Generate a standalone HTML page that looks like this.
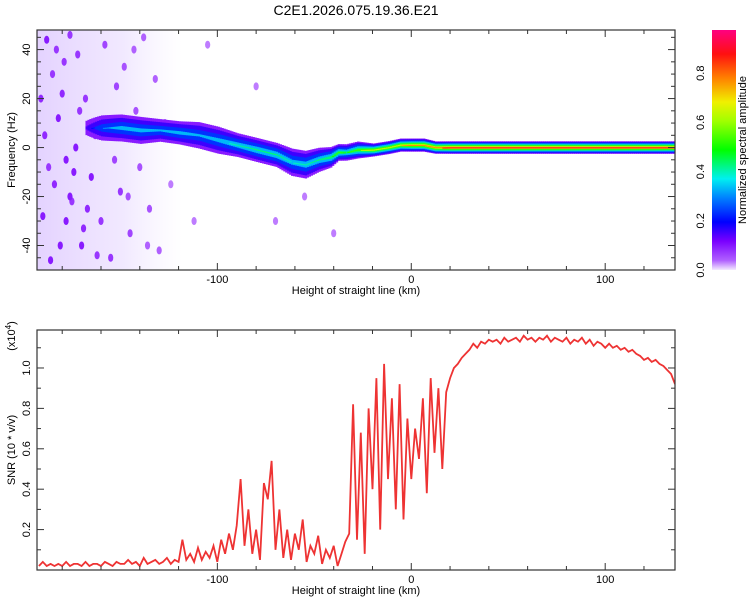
<!DOCTYPE html>
<html><head><meta charset="utf-8"><style>
body{margin:0;background:#fff;}
svg{display:block;font-family:"Liberation Sans",sans-serif;}
</style></head><body>
<svg id="c" width="750" height="600">
<defs>
<linearGradient id="cbg" x1="0" y1="1" x2="0" y2="0">
<stop offset="0" stop-color="#f4eaff"/><stop offset="0.04" stop-color="#b060ff"/>
<stop offset="0.12" stop-color="#7a00ff"/><stop offset="0.2" stop-color="#0000ff"/>
<stop offset="0.3" stop-color="#0080ff"/><stop offset="0.38" stop-color="#00f0f0"/>
<stop offset="0.5" stop-color="#00ff00"/><stop offset="0.62" stop-color="#a0ff00"/>
<stop offset="0.7" stop-color="#f0f000"/><stop offset="0.8" stop-color="#ff8000"/>
<stop offset="0.9" stop-color="#ff1010"/><stop offset="1" stop-color="#ff0080"/>
</linearGradient>
<linearGradient id="haze" x1="0" y1="0" x2="1" y2="0">
<stop offset="0" stop-color="#c9a6ff" stop-opacity="0.5"/><stop offset="0.6" stop-color="#d8c0ff" stop-opacity="0.35"/><stop offset="1" stop-color="#e6d8ff" stop-opacity="0"/>
</linearGradient>
<clipPath id="cp1"><rect x="37" y="30" width="638" height="240"/></clipPath>
<clipPath id="cp2"><rect x="37" y="330" width="638" height="240"/></clipPath>
</defs>
<text x="356" y="15" text-anchor="middle" font-size="14">C2E1.2026.075.19.36.E21</text>
<g id="top"></g>
<g id="bot"></g>
<rect x="712" y="30" width="24" height="240" fill="url(#cbg)"/>
<g id="cbt"></g>
<text transform="translate(746,150) rotate(-90)" text-anchor="middle" font-size="11">Normalized spectral amplitude</text>
</svg>
<script>
const ridgeX=[-168,-160,-150,-140,-130,-120,-110,-100,-90,-80,-70,-62,-55,-48,-42,-38,-34,-28,-20,-12,-6,0,6,12,20,136];
const ridgeF=[8,8,8,7,7,6,5,3,1,-1,-3,-6,-7,-5,-4,-2,-2,-1,-1,0,1,1,1,0,0,0];
const ridgeA=[0.15,0.3,0.38,0.38,0.35,0.38,0.35,0.38,0.42,0.45,0.45,0.4,0.42,0.45,0.5,0.55,0.5,0.6,0.7,0.7,0.75,0.8,0.8,0.85,0.92,0.92];
const ridgeW=[6,7,7,7,6,6,7,7,6,6,6,7,7,6,5,4,4,4,3,3,3,3,3,2.8,2.8,2.8];
const speckles=[[-188,44,.1],[-185,30,.08],[-182,12,.1],[-178,-5,.1],[-175,-22,.08],[-172,38,.08],[-170,-40,.1],[-168,20,.08],[-165,-12,.1],[-163,5,.08],[-160,-30,.08],[-158,42,.07],[-155,-45,.08],[-152,25,.07],[-150,-18,.08],[-148,33,.06],[-145,-35,.07],[-142,15,.06],[-140,-8,.06],[-138,45,.05],[-135,-25,.06],[-132,28,.05],[-130,-42,.05],[-127,10,.05],[-124,-15,.04],[-190,-28,.1],[-186,-46,.1],[-180,22,.09],[-176,46,.08],[-173,0,.1],[-184,-15,.09],[-179,35,.08],[-167,-25,.09],[-162,-44,.08],[-157,10,.07],[-153,-5,.07],[-146,-20,.06],[-143,40,.05],[-136,-40,.05],[-112,-30,.04],[-105,42,.04],[-80,25,.04],[-70,-30,.04],[-55,-20,.04],[-40,-35,.04],[-178,-30,.1],[-176,-20,.1],[-174,-10,.1],[-181,-40,.1],[-189,5,.09],[-187,-8,.08],[-183,40,.08],[-171,15,.08],[-169,-33,.09],[-191,20,.09]];
const snrStart=-192, snrStep=2;
const snr=[0.02,0.04,0.02,0.03,0.02,0.03,0.02,0.04,0.02,0.03,0.03,0.02,0.04,0.02,0.03,0.03,0.02,0.04,0.03,0.02,0.04,0.03,0.03,0.05,0.03,0.04,0.02,0.06,0.03,0.04,0.05,0.03,0.04,0.06,0.03,0.05,
0.04,0.15,0.05,0.08,0.04,0.11,0.05,0.09,0.06,0.12,
0.04,0.15,0.08,0.18,0.10,0.22,0.45,0.12,0.30,0.08,0.20,0.05,0.43,
0.35,0.54,0.10,0.30,0.06,0.20,0.05,0.18,0.10,0.25,0.04,0.12,0.08,0.17,0.03,0.10,0.06,0.12,0.02,0.08,
0.14,0.18,0.82,0.15,0.68,0.08,0.80,0.40,
0.95,0.20,1.02,0.45,0.85,0.30,0.92,0.25,0.75,
0.45,0.70,0.55,0.85,0.38,0.95,0.58,0.90,0.50,0.88,
0.95,1.00,1.02,1.05,1.07,1.09,1.12,1.10,1.13,1.12,1.14,
1.13,1.14,1.12,1.15,1.13,1.14,1.15,1.13,1.16,1.14,1.15,1.13,1.15,1.14,1.16,1.13,1.15,1.14,1.13,1.15,1.12,1.14,1.13,1.15,1.12,1.14,1.11,1.13,1.12,1.10,
1.12,1.10,1.11,1.09,1.10,1.08,1.09,1.07,1.06,1.04,1.05,1.03,1.04,1.02,1.01,0.99,0.97,0.92];
const xTicks=["-100","0","100"];
const fTicks=["-40","-20","0","20","40"];
const snrTicks=["0.2","0.4","0.6","0.8","1.0"];
const cbTicks=["0.0","0.2","0.4","0.6","0.8"];

const NS="http://www.w3.org/2000/svg";
const X0=37,X1=675,xMin=-193,xMax=136;
const sx=v=>X0+(v-xMin)/(xMax-xMin)*(X1-X0);
const fMin=-50,fMax=48; const sf=v=>270-(v-fMin)/(fMax-fMin)*240;
const sMax=1.188; const ss=v=>570-v/sMax*240;
function mk(tag,at,parent){const e=document.createElementNS(NS,tag);for(const k in at)e.setAttribute(k,at[k]);parent.appendChild(e);return e;}
function cmap(a){const st=[[0,[244,234,255]],[0.05,[176,96,255]],[0.12,[122,0,255]],[0.2,[0,0,255]],[0.3,[0,128,255]],[0.38,[0,240,240]],[0.5,[0,255,0]],[0.62,[160,255,0]],[0.7,[240,240,0]],[0.8,[255,128,0]],[0.9,[255,16,16]],[1,[255,0,128]]];
for(let i=1;i<st.length;i++){if(a<=st[i][0]){const t=(a-st[i-1][0])/(st[i][0]-st[i-1][0]);const c=st[i-1][1].map((v,j)=>Math.round(v+(st[i][1][j]-v)*t));return `rgb(${c})`;}}return 'rgb(255,0,128)';}
function interp(xs,ys,x){for(let i=1;i<xs.length;i++){if(x<=xs[i]){const t=(x-xs[i-1])/(xs[i]-xs[i-1]);return ys[i-1]+(ys[i]-ys[i-1])*t;}}return ys[ys.length-1];}

const topG=document.getElementById('top');
const g1=mk('g',{'clip-path':'url(#cp1)'},topG);
const hz=mk('rect',{x:sx(-193),y:30,width:sx(-118)-sx(-193),height:240,fill:'url(#haze)'},g1);


speckles.forEach(s=>{const e=mk('ellipse',{cx:sx(s[0]),cy:sf(s[1]),rx:2.6,ry:4,fill:cmap(s[2])},g1);

});
const levels=[0.06,0.12,0.2,0.3,0.4,0.5,0.62,0.75,0.88];
const rg=mk('g',{},g1);


for(const l of levels){
 for(let x=ridgeX[0];x<ridgeX[ridgeX.length-1];x+=1){
  const A=interp(ridgeX,ridgeA,x); if(l>=A) continue;
  const f=interp(ridgeX,ridgeF,x), w=interp(ridgeX,ridgeW,x);
  const hw=w*Math.pow(1-l/A,1.4);
  const y1=sf(f+hw),y2=sf(f-hw);
  mk('rect',{x:sx(x),y:y1,width:sx(x+1)-sx(x)+0.6,height:Math.max(1,y2-y1),fill:cmap(Math.min(l+0.04,A))},rg);
 }
}
const botG=document.getElementById('bot');
const g2=mk('g',{'clip-path':'url(#cp2)'},botG);
let d=snr.map((v,i)=>(i?'L':'M')+sx(snrStart+i*snrStep).toFixed(1)+','+ss(v).toFixed(1)).join('');
const ln=mk('path',{d:d,fill:'none',stroke:'#ee3333','stroke-width':1.8},g2);



function axes(par,yT,yB,yScale,yMajor,yMinorStep,yMinorRange,yLabels,ylabel,xlabel){
 mk('rect',{x:X0,y:yT,width:X1-X0,height:yB-yT,fill:'none',stroke:'#333','stroke-width':1.2},par);
 for(let v=-180;v<=136;v+=20){const x=sx(v);const maj=v%100===0;const L=maj?7:4;
  mk('line',{x1:x,y1:yB,x2:x,y2:yB-L,stroke:'#333'},par);mk('line',{x1:x,y1:yT,x2:x,y2:yT+L,stroke:'#333'},par);}
 xTicks.forEach(t=>{const e=mk('text',{x:sx(+t),y:yB+13,'text-anchor':'middle','font-size':11},par);e.textContent=t;
  
  });
 for(let v=yMinorRange[0];v<=yMinorRange[1]+1e-9;v+=yMinorStep){const y=yScale(v);const maj=Math.abs(v/yMajor-Math.round(v/yMajor))<1e-6;const L=maj?7:4;
  mk('line',{x1:X0,y1:y,x2:X0+L,y2:y,stroke:'#333'},par);mk('line',{x1:X1,y1:y,x2:X1-L,y2:y,stroke:'#333'},par);}
 yLabels.forEach(t=>{const y=yScale(+t);const e=mk('text',{transform:`translate(30,${y}) rotate(-90)`,'text-anchor':'middle','font-size':11},par);e.textContent=t;
  
  });
 const xl=mk('text',{x:356,y:yB+24,'text-anchor':'middle','font-size':11},par);xl.textContent=xlabel;
 
 
 const yl=mk('text',{transform:`translate(15,${(yT+yB)/2}) rotate(-90)`,'text-anchor':'middle','font-size':11},par);yl.textContent=ylabel;
 
 
}
axes(topG,30,270,sf,20,5,[-50,45],fTicks,'Frequency (Hz)','Height of straight line (km)');
axes(botG,330,570,ss,0.2,0.1,[0.1,1.1],snrTicks,'SNR (10 * v/v)','Height of straight line (km)');
const ex=mk('text',{transform:'translate(15,336) rotate(-90)','text-anchor':'middle','font-size':11},botG);
const t1=mk('tspan',{},ex);t1.textContent='(x10';
const t2=mk('tspan',{dy:-4,'font-size':8},ex);t2.textContent='4';
const t3=mk('tspan',{dy:4},ex);t3.textContent=')';


const cbt=document.getElementById('cbt');
cbTicks.forEach(t=>{const y=270-(+t)*240*1.025;const e=mk('text',{transform:`translate(704,${y}) rotate(-90)`,'text-anchor':'middle','font-size':11},cbt);e.textContent=t;
 
 });
</script>
</body></html>
